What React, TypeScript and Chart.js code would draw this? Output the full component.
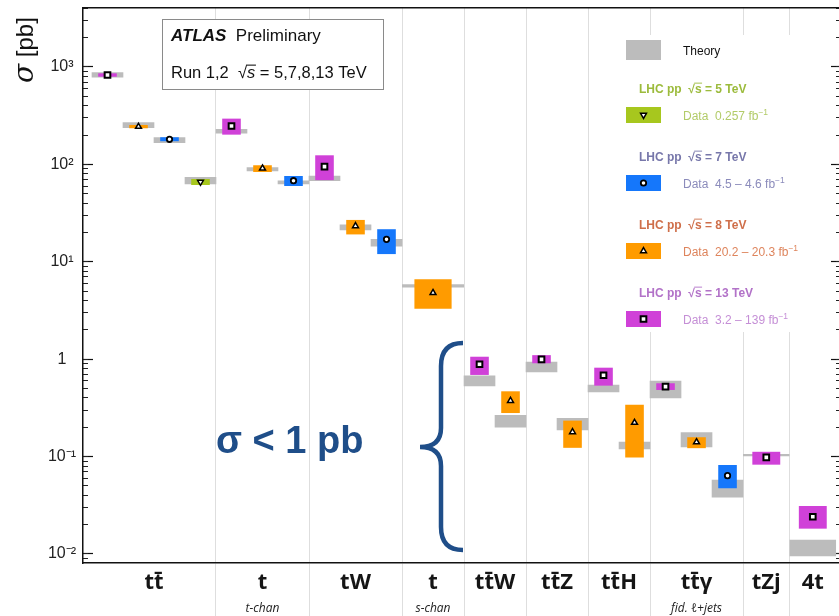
import React, { useEffect, useRef } from 'react';
import { Chart, registerables } from 'chart.js';

Chart.register(...registerables);

// ---------------- data ----------------
const categories = ['tt\u0304', 't', 'tW', 't', 'tt\u0304W', 'tt\u0304Z', 'tt\u0304H', 'tt\u0304\u03b3', 'tZj', '4t'];
const categorySubLabels = ['', 't-chan', '', 's-chan', '', '', '', 'fid. \u2113+jets', '', ''];

const energies = ['5', '7', '8', '13'];
const energyLumi = ['0.257', '4.5 \u2013 4.6', '20.2 \u2013 20.3', '3.2 \u2013 139'];

// one entry per measurement
const entryCategory = [0, 0, 0, 0, 1, 1, 1, 2, 2, 2, 3, 4, 4, 5, 5, 6, 6, 7, 7, 7, 8, 9];
const entryEnergy = ['13', '8', '7', '5', '13', '8', '7', '13', '8', '7', '8', '13', '8', '13', '8', '13', '8', '13', '8', '7', '13', '13'];
const entryWidth = [1, 1, 1, 1, 1, 1, 1, 1, 1, 1, 2, 1, 1, 1, 1, 1, 1, 1, 1, 1, 1.5, 1.5];

const measured = [828, 244, 181, 66, 248, 91, 68, 94.7, 23.3, 17, 4.8, 0.887, 0.375, 0.997, 0.179, 0.684, 0.223, 0.522, 0.141, 0.0637, 0.098, 0.0241];
const measuredLow = [795, 235, 173, 61.4, 202, 83.6, 60, 69, 19.1, 12.0, 3.3, 0.689, 0.28, 0.908, 0.123, 0.535, 0.098, 0.483, 0.122, 0.0473, 0.0826, 0.0182];
const measuredHigh = [861, 254, 190, 70.8, 295, 98, 76, 124, 26.9, 21.6, 6.6, 1.06, 0.468, 1.1, 0.234, 0.818, 0.341, 0.566, 0.158, 0.082, 0.112, 0.0311];
const theoryLow = [784, 238, 167, 62.9, 209, 85.5, 63, 68, 21.2, 14.5, 5.43, 0.531, 0.201, 0.739, 0.188, 0.461, 0.12, 0.4, 0.126, 0.0382, 0.1007, 0.00946];
const theoryHigh = [874, 268, 188, 73.6, 229, 92.5, 68, 76, 23.9, 17, 5.87, 0.673, 0.265, 0.936, 0.247, 0.543, 0.141, 0.597, 0.176, 0.0575, 0.106, 0.014];

const yTickValues = [0.01, 0.1, 1, 10, 100, 1000];
const yTickLabels = ['10\u207b\u00b2', '10\u207b\u00b9', '1', '10\u00b9', '10\u00b2', '10\u00b3'];
const yMin = 0.00808;
const yMax = 4034;

// ---------------- styles ----------------
const energyColors = ['#a7c71e', '#1577fb', '#ff9b00', '#d041d8'];
const energyHeaderColors = ['#9cbb3c', '#7777aa', '#cf6f4a', '#b272c8'];
const energyTextColors = ['#b2cb68', '#8b8bbb', '#de845c', '#c58fd6'];
const energyMarkers = ['triangle', 'circle', 'triangle', 'rect'];
const energyMarkerRotation = [180, 0, 0, 0];
const energyMarkerRadius = [3.4, 2.7, 3.4, 4.0];
const energyMarkerBorder = [1.5, 1.8, 1.5, 2];
const THEORY = '#bcbcbc';
const GRID = '#dedede';
const BRACE = '#1f4e89';
const SANS = "'Liberation Sans', Arial, sans-serif";
const LABEL_FONT = "'Open Sans', 'DejaVu Sans', sans-serif";

// ---------------- derived layout (data space) ----------------
const entryStart: number[] = [];
{
  let acc = 0;
  entryWidth.forEach((w) => {
    entryStart.push(acc);
    acc += w;
  });
}
const entryCenter = entryStart.map((s, i) => s + entryWidth[i] / 2);
const categoryStart = categories.map((_, c) => entryStart[entryCategory.indexOf(c)]);
const categoryEnd = categories.map((_, c) => {
  const last = entryCategory.lastIndexOf(c);
  return entryStart[last] + entryWidth[last];
});
const categoryCenter = categoryStart.map((s, c) => (s + categoryEnd[c]) / 2);
const categoryBoundaries = categoryStart.slice(1);
const xMin = -0.29;
const xMax = 24.16;

const yMinorTicks: number[] = [];
for (let e = -3; e <= 3; e++) {
  for (let m = 1; m <= 9; m++) {
    const v = m * Math.pow(10, e);
    if (v >= yMin && v <= yMax) yMinorTicks.push(v);
  }
}

const idx = measured.map((_, i) => i);
const widthClasses = [1, 1.5, 2];

function drawRich(
  ctx: CanvasRenderingContext2D,
  x: number,
  y: number,
  segs: { t: string; font: string; dy?: number; over?: boolean; size?: number }[],
  color: string
) {
  ctx.textBaseline = 'alphabetic';
  ctx.textAlign = 'left';
  ctx.fillStyle = color;
  ctx.strokeStyle = color;
  let cx = x;
  for (const s of segs) {
    ctx.font = s.font;
    const w = ctx.measureText(s.t).width;
    ctx.fillText(s.t, cx, y + (s.dy || 0));
    if (s.over) {
      const size = s.size || 12;
      ctx.lineWidth = Math.max(0.9, size * 0.065);
      ctx.beginPath();
      ctx.moveTo(cx - size * 0.06, y - size * 0.78);
      ctx.lineTo(cx + w + size * 0.04, y - size * 0.78);
      ctx.stroke();
    }
    cx += w;
  }
  return cx;
}

function drawMarker(ctx: CanvasRenderingContext2D, k: number, x: number, y: number) {
  const r = energyMarkerRadius[k];
  ctx.fillStyle = '#fff';
  ctx.strokeStyle = '#000';
  ctx.lineWidth = energyMarkerBorder[k];
  ctx.beginPath();
  const style = energyMarkers[k];
  if (style === 'circle') {
    ctx.arc(x, y, r, 0, Math.PI * 2);
  } else if (style === 'rect') {
    const h = r * Math.SQRT1_2;
    ctx.rect(x - h, y - h, 2 * h, 2 * h);
  } else {
    let rad = (energyMarkerRotation[k] * Math.PI) / 180;
    for (let j = 0; j < 3; j++) {
      const px = x + Math.sin(rad) * r;
      const py = y - Math.cos(rad) * r;
      if (j === 0) ctx.moveTo(px, py);
      else ctx.lineTo(px, py);
      rad += (2 * Math.PI) / 3;
    }
    ctx.closePath();
  }
  ctx.fill();
  ctx.stroke();
}

const decorPlugin = {
  id: 'decor',
  beforeDatasetsDraw(chart: any) {
    const ctx: CanvasRenderingContext2D = chart.ctx;
    ctx.save();
    // ATLAS box
    ctx.fillStyle = '#fff';
    ctx.fillRect(162, 19, 221, 70);
    ctx.strokeStyle = '#8a8a8a';
    ctx.lineWidth = 1;
    ctx.strokeRect(162.5, 19.5, 221, 70);
    drawRich(ctx, 171, 41, [
      { t: 'ATLAS', font: `italic bold 17px ${SANS}` },
      { t: '  Preliminary', font: `17px ${SANS}` },
    ], '#111');
    drawRich(ctx, 171, 78, [
      { t: 'Run 1,2  ', font: `16.5px ${SANS}` },
      { t: '\u221a', font: `16.5px ${SANS}` },
      { t: 's', font: `italic 16.5px ${SANS}`, over: true, size: 16.5 },
      { t: ' = 5,7,8,13 TeV', font: `16.5px ${SANS}` },
    ], '#111');

    // legend background
    ctx.fillStyle = '#fff';
    ctx.fillRect(600, 35, 228, 297);
    ctx.fillStyle = THEORY;
    ctx.fillRect(626, 40, 35, 20);
    ctx.fillStyle = '#111';
    ctx.font = `12px ${SANS}`;
    ctx.textBaseline = 'middle';
    ctx.fillText('Theory', 683, 52);
    energies.forEach((e, k) => {
      const gy = 88 + 68 * k;
      drawRich(ctx, 639, gy + 4.5, [
        { t: 'LHC pp  ', font: `bold 12px ${SANS}` },
        { t: '\u221a', font: `bold 12px ${SANS}` },
        { t: 's', font: `bold 12px ${SANS}`, over: true, size: 12 },
        { t: ` = ${e} TeV`, font: `bold 12px ${SANS}` },
      ], energyHeaderColors[k]);
      ctx.fillStyle = energyColors[k];
      ctx.fillRect(626, gy + 19, 35, 16);
      drawMarker(ctx, k, 643.5, gy + 27);
      drawRich(ctx, 683, gy + 32, [
        { t: `Data  ${energyLumi[k]} fb`, font: `12px ${SANS}` },
        { t: '\u22121', font: `8.5px ${SANS}`, dy: -5 },
      ], energyTextColors[k]);
    });
    ctx.restore();
  },
  afterDraw(chart: any) {
    const ctx: CanvasRenderingContext2D = chart.ctx;
    // category sub-labels under the main labels
    const xs = chart.scales.x;
    ctx.save();
    ctx.font = `italic 12px ${LABEL_FONT}`;
    ctx.fillStyle = '#222';
    ctx.textAlign = 'center';
    ctx.textBaseline = 'middle';
    categorySubLabels.forEach((t, c) => {
      if (t) ctx.fillText(t, xs.getPixelForValue(categoryCenter[c]), 609);
    });
    ctx.restore();

    ctx.save();
    // y title
    ctx.translate(33, 83);
    ctx.rotate(-Math.PI / 2);
    drawRich(ctx, 0, 0, [
      { t: '\u03c3', font: "italic 28px 'DejaVu Serif', serif" },
      { t: ' [pb]', font: `24px ${SANS}` },
    ], '#111');
    ctx.restore();

    ctx.save();
    ctx.fillStyle = BRACE;
    ctx.font = `bold 38px ${SANS}`;
    ctx.textBaseline = 'alphabetic';
    ctx.textAlign = 'left';
    ctx.fillText('\u03c3 < 1 pb', 216, 453);
    // brace
    ctx.strokeStyle = BRACE;
    ctx.lineWidth = 4.5;
    ctx.lineJoin = 'miter';
    ctx.beginPath();
    ctx.moveTo(463, 343);
    ctx.quadraticCurveTo(441, 343, 441, 366);
    ctx.lineTo(441, 428);
    ctx.quadraticCurveTo(441, 447, 420, 447);
    ctx.quadraticCurveTo(441, 447, 441, 466);
    ctx.lineTo(441, 527);
    ctx.quadraticCurveTo(441, 550, 463, 550);
    ctx.stroke();
    ctx.restore();
  },
};

function fixSize(w: number | null, h: number | null) {
  return (s: any) => {
    if (w !== null) s.width = w;
    if (h !== null) s.height = h;
    s.paddingTop = 0;
    s.paddingBottom = 0;
    s.paddingLeft = 0;
    s.paddingRight = 0;
  };
}

function buildConfig(): any {
  const theorySets = widthClasses.map((w) => ({
    type: 'bar',
    label: 'Theory',
    order: 3,
    grouped: false,
    barPercentage: w,
    categoryPercentage: 1,
    backgroundColor: THEORY,
    borderWidth: 0,
    data: idx.filter((i) => entryWidth[i] === w).map((i) => ({ x: entryCenter[i], y: [theoryLow[i], theoryHigh[i]] })),
  }));
  const dataSets = widthClasses.map((w) => {
    const ids = idx.filter((i) => entryWidth[i] === w);
    return {
      type: 'bar',
      label: 'Data',
      order: 2,
      grouped: false,
      barPercentage: 0.6 * w,
      categoryPercentage: 1,
      backgroundColor: ids.map((i) => energyColors[energies.indexOf(entryEnergy[i])]),
      borderWidth: 0,
      data: ids.map((i) => ({ x: entryCenter[i], y: [measuredLow[i], measuredHigh[i]] })),
    };
  });
  const markerSets = energies.map((e, k) => ({
    type: 'scatter',
    label: `${e} TeV`,
    order: 1,
    data: idx.filter((i) => entryEnergy[i] === e).map((i) => ({ x: entryCenter[i], y: measured[i] })),
    pointStyle: energyMarkers[k],
    rotation: energyMarkerRotation[k],
    pointRadius: energyMarkerRadius[k],
    pointBackgroundColor: '#fff',
    pointBorderColor: '#000',
    pointBorderWidth: energyMarkerBorder[k],
    showLine: false,
  }));

  const hiddenGrid = { display: false, drawTicks: false, offset: false };
  return {
    type: 'scatter',
    data: { datasets: [...theorySets, ...dataSets, ...markerSets] },
    plugins: [decorPlugin],
    options: {
      animation: false,
      responsive: false,
      devicePixelRatio: 1,
      events: [],
      layout: { padding: { top: 8, right: 1, bottom: 0, left: 0 } },
      plugins: { legend: { display: false }, tooltip: { enabled: false } },
      scales: {
        x: {
          type: 'linear', position: 'bottom', min: xMin, max: xMax, offset: false, weight: 0,
          afterBuildTicks: (s: any) => { s.ticks = categoryBoundaries.map((v) => ({ value: v })); },
          ticks: { display: false },
          grid: { offset: false, color: GRID, lineWidth: 1, drawOnChartArea: true, drawTicks: true, tickLength: 53, tickColor: GRID, tickWidth: 1 },
          border: { display: true, color: '#111', width: 1.5 },
          afterFit: fixSize(null, 0),
        },
        xl: {
          type: 'linear', position: 'bottom', min: xMin, max: xMax, offset: false, weight: 1,
          afterBuildTicks: (s: any) => { s.ticks = categoryCenter.map((v) => ({ value: v })); },
          ticks: {
            callback: (_v: any, i: number) => categories[i],
            font: { family: LABEL_FONT, size: 22, weight: 'bold' },
            color: '#151515', padding: 7, autoSkip: false, maxRotation: 0, minRotation: 0,
          },
          grid: hiddenGrid,
          border: { display: false },
          afterFit: fixSize(null, 53),
        },
        xTop: {
          type: 'linear', position: 'top', min: xMin, max: xMax, offset: false,
          ticks: { display: false },
          grid: hiddenGrid,
          border: { display: true, color: '#111', width: 1.5 },
          afterFit: fixSize(null, 0),
        },
        y: {
          type: 'logarithmic', position: 'left', min: yMin, max: yMax, weight: 1,
          afterBuildTicks: (s: any) => { s.ticks = yTickValues.map((v) => ({ value: v, major: true })); },
          ticks: {
            callback: (_v: any, i: number) => yTickLabels[i],
            font: { family: SANS, size: 16 },
            color: '#222', crossAlign: 'center', padding: 17, autoSkip: false,
          },
          grid: { drawOnChartArea: false, drawTicks: true, tickLength: -10, tickColor: '#111', tickWidth: 1.2 },
          border: { display: true, color: '#111', width: 1.5 },
          afterFit: fixSize(83, null),
        },
        yMinor: {
          type: 'logarithmic', position: 'left', min: yMin, max: yMax, weight: 0,
          afterBuildTicks: (s: any) => { s.ticks = yMinorTicks.map((v) => ({ value: v })); },
          ticks: { display: false },
          grid: { drawOnChartArea: false, drawTicks: true, tickLength: -5, tickColor: '#222', tickWidth: 1 },
          border: { display: false },
          afterFit: fixSize(0, null),
        },
        yR: {
          type: 'logarithmic', position: 'right', min: yMin, max: yMax, weight: 0,
          afterBuildTicks: (s: any) => { s.ticks = yTickValues.map((v) => ({ value: v })); },
          ticks: { display: false },
          grid: { drawOnChartArea: false, drawTicks: true, tickLength: -10, tickColor: '#111', tickWidth: 1.2 },
          border: { display: true, color: '#111', width: 1.5 },
          afterFit: fixSize(0, null),
        },
        yRMinor: {
          type: 'logarithmic', position: 'right', min: yMin, max: yMax, weight: 1,
          afterBuildTicks: (s: any) => { s.ticks = yMinorTicks.map((v) => ({ value: v })); },
          ticks: { display: false },
          grid: { drawOnChartArea: false, drawTicks: true, tickLength: -5, tickColor: '#222', tickWidth: 1 },
          border: { display: false },
          afterFit: fixSize(0, null),
        },
      },
    },
  };
}

export default function App() {
  const ref = useRef<HTMLCanvasElement>(null);
  useEffect(() => {
    if (!ref.current) return;
    const chart = new Chart(ref.current, buildConfig());
    return () => chart.destroy();
  }, []);
  return (
    <div style={{ position: 'fixed', left: 0, top: 0, width: 839, height: 616, overflow: 'hidden', background: '#fff' }}>
      <canvas ref={ref} width={847} height={616} style={{ display: 'block', width: 847, height: 616 }} />
    </div>
  );
}
